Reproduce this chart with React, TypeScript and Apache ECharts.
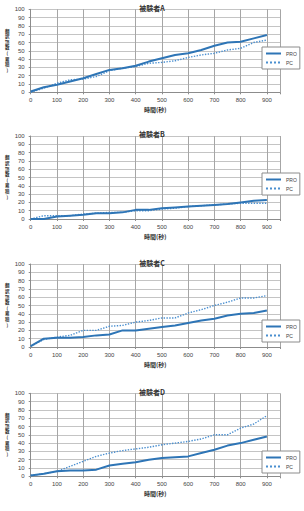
import React, { useEffect, useRef } from "react";
import * as echarts from "echarts";

const times = [0, 50, 100, 150, 200, 250, 300, 350, 400, 450, 500, 550, 600, 650, 700, 750, 800, 850, 900];
const xTicks = [0, 100, 200, 300, 400, 500, 600, 700, 800, 900];
const yTicks = [0, 10, 20, 30, 40, 50, 60, 70, 80, 90, 100];

const subjects = ["被験者A", "被験者B", "被験者C", "被験者D"];
const seriesNames = ["PRO", "PC"];
const xTitle = "時間(秒)";
const yTitle = "翻訳語数(累積)";

const proA = [1, 6, 9, 13, 17, 22, 27, 29, 32, 37, 41, 45, 47, 51, 56, 60, 61, 65, 69];
const pcA = [0, 5, 11, 15, 16, 19, 26, 29, 31, 35, 36, 38, 42, 45, 47, 51, 53, 60, 63];
const proB = [0, 0, 3, 4, 5, 7, 7, 8, 11, 11, 13, 14, 15, 16, 17, 18, 20, 22, 23];
const pcB = [0, 4, 4, 4, 6, 7, 8, 8, 10, 10, 12, 13, 15, 16, 17, 18, 19, 19, 19];
const proC = [1, 10, 11, 11, 12, 14, 15, 20, 20, 22, 24, 26, 29, 32, 34, 38, 40, 41, 44];
const pcC = [1, 9, 12, 14, 20, 20, 25, 26, 30, 32, 35, 35, 41, 45, 50, 54, 59, 59, 62];
const proD = [1, 3, 6, 7, 7, 8, 13, 15, 17, 20, 22, 23, 24, 28, 32, 37, 40, 44, 48];
const pcD = [1, 3, 6, 12, 18, 24, 28, 31, 33, 35, 38, 40, 42, 45, 50, 50, 58, 63, 73];

const proSeries = [proA, proB, proC, proD];
const pcSeries = [pcA, pcB, pcC, pcD];

const W = 304;
const H = 511;
const gridTops = [9.3, 136, 264, 393.3];
const gridH = 83;
const gridLeft = 30.7;
const gridRight = 24;
const titleTops = [-1, 125.5, 254.5, 383];
const legendTops = [47, 173, 320, 451];

const PRO_COLOR = "#2E75B6";
const PC_COLOR = "#4A8FD0";

export default function App() {
  const ref = useRef<HTMLDivElement>(null);
  useEffect(() => {
    if (!ref.current) return;
    const chart = echarts.init(ref.current, undefined, { renderer: "svg" });
    const font = "Liberation Sans, Arial, sans-serif";
    const jp = "Noto Sans CJK JP, sans-serif";
    const grids: any[] = [];
    const xAxes: any[] = [];
    const yAxes: any[] = [];
    const series: any[] = [];
    const titles: any[] = [];
    const legends: any[] = [];
    const graphics: any[] = [];
    const chars = yTitle.split("");
    const step = 5.6;
    subjects.forEach((name, i) => {
      grids.push({ left: gridLeft, right: gridRight, top: gridTops[i], height: gridH, containLabel: false });
      xAxes.push({
        type: "value",
        gridIndex: i,
        min: 0,
        max: 950,
        interval: 100,
        name: xTitle,
        nameLocation: "middle",
        nameGap: 14,
        nameTextStyle: { fontSize: 6, fontFamily: jp, color: "#333", fontWeight: "bold" },
        axisLine: { show: true, lineStyle: { color: "#8c8c8c", width: 1 } },
        axisTick: { show: true, length: 2, lineStyle: { color: "#8c8c8c" } },
        axisLabel: {
          fontSize: 6,
          fontFamily: font,
          color: "#444",
          margin: 5,
          formatter: (v: number) => (xTicks.includes(v) ? String(v) : ""),
        },
        splitLine: { show: true, lineStyle: { color: "#a6a6a6", width: 1 } },
      });
      yAxes.push({
        type: "value",
        gridIndex: i,
        min: 0,
        max: 100,
        interval: 10,
        axisLine: { show: true, lineStyle: { color: "#8c8c8c", width: 1 } },
        axisTick: { show: true, length: 2, lineStyle: { color: "#8c8c8c" } },
        axisLabel: {
          fontSize: 6,
          fontFamily: font,
          color: "#444",
          margin: 6,
          formatter: (v: number) => (yTicks.includes(v) ? String(v) : ""),
        },
        splitLine: { show: true, lineStyle: { color: "#c4c4c4", width: 1 } },
      });
      series.push({
        name: seriesNames[0],
        type: "line",
        xAxisIndex: i,
        yAxisIndex: i,
        data: times.map((t, k) => [t, proSeries[i][k]]),
        symbol: "none",
        lineStyle: { color: PRO_COLOR, width: 2 },
        itemStyle: { color: PRO_COLOR },
        z: 3,
      });
      series.push({
        name: seriesNames[1],
        type: "line",
        xAxisIndex: i,
        yAxisIndex: i,
        data: times.map((t, k) => [t, pcSeries[i][k]]),
        symbol: "none",
        lineStyle: { color: PC_COLOR, width: 1.4, type: "dotted" },
        itemStyle: { color: PC_COLOR },
        z: 2,
      });
      titles.push({
        text: name,
        left: "center",
        top: titleTops[i],
        textStyle: { fontSize: 7, fontFamily: jp, color: "#333", fontWeight: "bold" },
      });
      legends.push({
        orient: "vertical",
        left: 262,
        top: legendTops[i],
        padding: [4, 3, 4, 3],
        itemWidth: 15,
        itemHeight: 5,
        itemGap: 4,
        backgroundColor: "#fff",
        borderColor: "#8c8c8c",
        borderWidth: 1,
        borderRadius: 0,
        itemStyle: { opacity: 0, borderWidth: 0 },
        textStyle: { fontSize: 5, fontFamily: font, color: "#444" },
        data: [seriesNames[0], seriesNames[1]],
      });
      const centerY = gridTops[i] + gridH / 2;
      const startY = centerY - (chars.length * step) / 2;
      graphics.push({
        type: "group",
        left: 5,
        top: startY,
        children: chars.map((c, k) => ({
          type: "text",
          x: 2.5,
          y: k * step,
          style: {
            text: c,
            fontSize: 4.5,
            fontFamily: jp,
            fontWeight: "bold",
            fill: "#333",
            align: "center",
            verticalAlign: "top",
          },
        })),
      });
    });
    chart.setOption({
      animation: false,
      backgroundColor: "#fff",
      title: titles,
      legend: legends,
      grid: grids,
      xAxis: xAxes,
      yAxis: yAxes,
      series,
      graphic: graphics,
    });
    return () => chart.dispose();
  }, []);
  return (
    <div
      ref={ref}
      style={{ position: "fixed", left: 0, top: 0, width: W, height: H, background: "#fff" }}
    />
  );
}
